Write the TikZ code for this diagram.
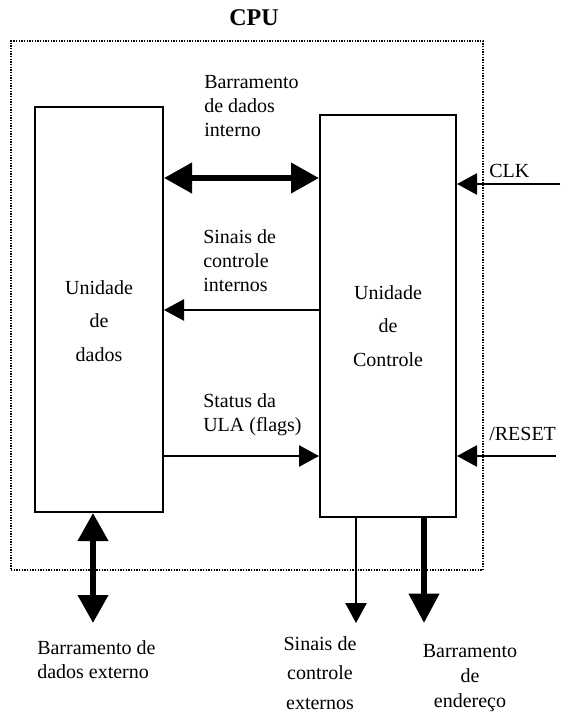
\documentclass[tikz,border=0pt]{standalone}
\usepackage{fontspec}
\setmainfont{Liberation Serif}
\usetikzlibrary{arrows.meta}

\tikzset{
  unit/.style={draw,line width=1.5pt,inner sep=0pt},
  lbl/.style={font=\fontsize{15}{18}\selectfont,inner sep=0pt},
  bus/.style={line width=4.5pt,{Triangle[length=21pt,width=22pt]}-{Triangle[length=21pt,width=22pt]}},
  busout/.style={line width=4.5pt,-{Triangle[length=22pt,width=22pt]}},
  sig/.style={line width=1.1pt,-{Triangle[length=15pt,width=16pt]}}
}

\begin{document}
\begin{tikzpicture}[x=0.75pt,y=-0.75pt]
      \useasboundingbox (0,0) rectangle (560,716);

      \node[draw,line width=1.1pt,dash pattern=on 1pt off 1pt,minimum width=354pt,minimum height=396.75pt,inner sep=0pt] (cpu) at (247,305.5) {};
      \node[font=\fontsize{18}{20}\bfseries\selectfont] (cputitle) at (254,18) {CPU};

      \node[unit,minimum width=96pt,minimum height=303.75pt] (dados) at (99,309.5) {};
      \node[unit,minimum width=102pt,minimum height=301.5pt] (controle) at (388,316) {};

      \node[lbl,align=center,font=\fontsize{15}{25}\selectfont] (dadostxt) at (99,321) {Unidade\\de\\dados};
      \node[lbl,align=center,font=\fontsize{15}{25}\selectfont] (controletxt) at (388,326) {Unidade\\de\\Controle};

      \draw[bus] (dados.east |- 0,178) -- (controle.west |- 0,178);
      \node[lbl,align=left,anchor=west] (barint) at (204,106) {Barramento\\de dados\\interno};

      \draw[sig] (controle.west |- 0,310) -- (dados.east |- 0,310);
      \node[lbl,align=left,anchor=west] (sigint) at (203,261) {Sinais de\\controle\\internos};

      \draw[sig] (dados.east |- 0,456) -- (controle.west |- 0,456);
      \node[lbl,align=left,anchor=west] (status) at (203,415) {Status da\\ULA (flags)};

      \coordinate (clkin) at (560,184);
      \draw[sig] (clkin) -- (controle.east |- clkin);
      \node[lbl,anchor=west] (clk) at (489,171) {CLK};

      \coordinate (resetin) at (556,456);
      \draw[sig] (resetin) -- (controle.east |- resetin);
      \node[lbl,anchor=west] (reset) at (489,434) {/RESET};

      \coordinate (dadosext) at (93,623);
      \draw[bus] (dados.south -| dadosext) -- (dadosext);
      \node[lbl,align=left,anchor=west] (barext) at (37,660) {Barramento de\\dados externo};

      \coordinate (sigext) at (356,623);
      \draw[sig] (controle.south -| sigext) -- (sigext);
      \node[lbl,align=center,font=\fontsize{15}{22}\selectfont] (sigexttxt) at (320,673) {Sinais de\\controle\\externos};

      \coordinate (endext) at (424,623);
      \draw[busout] (controle.south -| endext) -- (endext);
      \node[lbl,align=center,font=\fontsize{15}{19}\selectfont] (endtxt) at (470,678) {Barramento\\de\\endereço};
    \end{tikzpicture}
\end{document}
